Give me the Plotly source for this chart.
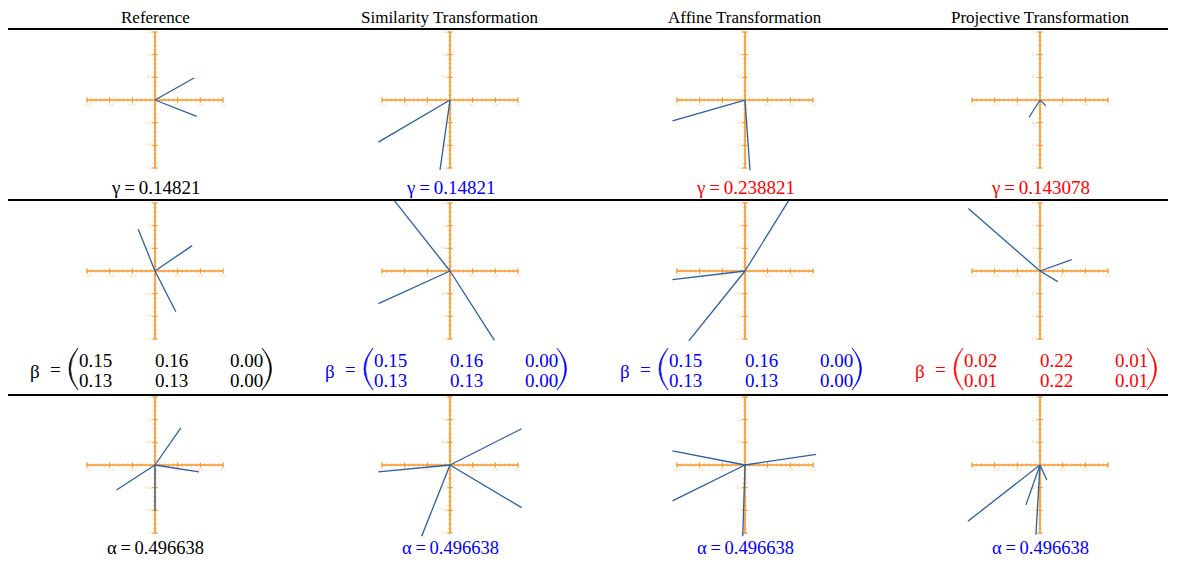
import plotly.graph_objects as go

W, H = 1182, 565
OX, OY = 8, 8            # browser body margin
FW, FH = W - 2 * OX, H - 2 * OY

# ---------------- data ----------------
titles = ["Reference", "Similarity Transformation", "Affine Transformation", "Projective Transformation"]

gamma_values = ["0.14821", "0.14821", "0.238821", "0.143078"]
gamma_colors = ["black", "blue", "red", "red"]

beta_ref_matrix = [["0.15", "0.16", "0.00"], ["0.13", "0.13", "0.00"]]
beta_sim_matrix = [["0.15", "0.16", "0.00"], ["0.13", "0.13", "0.00"]]
beta_aff_matrix = [["0.15", "0.16", "0.00"], ["0.13", "0.13", "0.00"]]
beta_proj_matrix = [["0.02", "0.22", "0.01"], ["0.01", "0.22", "0.01"]]
beta_colors = ["black", "blue", "blue", "red"]

alpha_values = ["0.496638", "0.496638", "0.496638", "0.496638"]
alpha_colors = ["black", "blue", "blue", "blue"]

# vector end points (each drawn from the origin)
gamma_ref = [(0.86, 0.485), (0.92, -0.36)]
gamma_sim = [(-1.58, -0.93), (-0.22, -1.54)]
gamma_aff = [(-1.60, -0.46), (0.11, -1.55)]
gamma_proj = [(-0.24, -0.38), (0.13, -0.13)]

beta_ref = [(-0.37, 0.92), (0.82, 0.56), (0.46, -0.90)]
beta_sim = [(-1.25, 1.58), (-1.58, -0.72), (0.98, -1.53)]
beta_aff = [(0.98, 1.58), (-1.24, -1.54), (-1.60, -0.19)]
beta_proj = [(-1.58, 1.38), (0.70, 0.25), (0.39, -0.235)]

alpha_ref = [(0.57, 0.82), (-0.85, -0.55), (0.97, -0.15), (0.0, -1.01)]
alpha_sim = [(1.58, 0.80), (-1.58, -0.15), (1.58, -0.94), (-0.625, -1.57)]
alpha_aff = [(-1.60, 0.31), (1.57, 0.235), (-1.60, -0.79), (-0.05, -1.57)]
alpha_proj = [(-1.59, -1.24), (-0.31, -0.88), (0.15, -0.33), (-0.09, -1.54)]

major_ticks = [-1.5, -1.0, -0.5, 0.5, 1.0, 1.5]
major_labels = ["\u22121.5", "\u22121.0", "\u22120.5", "0.5", "1.0", "1.5"]
minor_ticks = [round(-1.5 + 0.1 * i, 2) for i in range(31)]

# ---------------- layout helpers ----------------
col_cx = [155, 450, 745, 1040]
row_cy = [100, 271, 465]
R = 1.75
K = 45.33  # px per unit
HALF = R * K

AXIS_COLOR = "#f7931e"
TICK_COLOR = "#f9a54a"
LABEL_COLOR = "#fbc48c"
VEC_COLOR = "#2a5fa3"
FONT = "Liberation Serif"


def px(x):
    return (x - OX) / FW


def py(y):
    return 1 - (y - OY) / FH


panels = [
    [gamma_ref, gamma_sim, gamma_aff, gamma_proj],
    [beta_ref, beta_sim, beta_aff, beta_proj],
    [alpha_ref, alpha_sim, alpha_aff, alpha_proj],
]

fig = go.Figure()
layout_axes = {}
idx = 0
for r, row in enumerate(panels):
    for c, vecs in enumerate(row):
        idx += 1
        xa = "x" if idx == 1 else f"x{idx}"
        ya = "y" if idx == 1 else f"y{idx}"
        xkey = "xaxis" if idx == 1 else f"xaxis{idx}"
        ykey = "yaxis" if idx == 1 else f"yaxis{idx}"
        cx, cy = col_cx[c], row_cy[r]
        layout_axes[xkey] = dict(domain=[px(cx - HALF), px(cx + HALF)], range=[-R, R],
                                 visible=False, fixedrange=True, anchor=ya)
        layout_axes[ykey] = dict(domain=[py(cy + HALF), py(cy - HALF)], range=[-R, R],
                                 visible=False, fixedrange=True, anchor=xa)
        # orange axes
        fig.add_trace(go.Scatter(x=[-1.5, 1.5, None, 0, 0], y=[0, 0, None, -1.5, 1.5],
                                 mode="lines", line=dict(color=AXIS_COLOR, width=1.6),
                                 xaxis=xa, yaxis=ya, hoverinfo="skip", showlegend=False))
        # minor ticks
        fig.add_trace(go.Scatter(x=minor_ticks, y=[0] * len(minor_ticks), mode="markers",
                                 marker=dict(symbol="line-ns", size=2.5,
                                             line=dict(color=TICK_COLOR, width=0.8)),
                                 xaxis=xa, yaxis=ya, hoverinfo="skip", showlegend=False))
        fig.add_trace(go.Scatter(x=[0] * len(minor_ticks), y=minor_ticks, mode="markers",
                                 marker=dict(symbol="line-ew", size=2.5,
                                             line=dict(color=TICK_COLOR, width=0.8)),
                                 xaxis=xa, yaxis=ya, hoverinfo="skip", showlegend=False))
        # major ticks
        fig.add_trace(go.Scatter(x=major_ticks, y=[0] * len(major_ticks), mode="markers",
                                 marker=dict(symbol="line-ns", size=4,
                                             line=dict(color=AXIS_COLOR, width=1)),
                                 xaxis=xa, yaxis=ya, hoverinfo="skip", showlegend=False))
        fig.add_trace(go.Scatter(x=[0] * len(major_ticks), y=major_ticks, mode="markers",
                                 marker=dict(symbol="line-ew", size=4,
                                             line=dict(color=AXIS_COLOR, width=1)),
                                 xaxis=xa, yaxis=ya, hoverinfo="skip", showlegend=False))
        # tick labels
        fig.add_trace(go.Scatter(x=major_ticks, y=[-0.1] * len(major_ticks), mode="text",
                                 text=major_labels, textposition="middle center",
                                 textfont=dict(size=4.5, color=LABEL_COLOR, family=FONT),
                                 xaxis=xa, yaxis=ya, hoverinfo="skip", showlegend=False))
        fig.add_trace(go.Scatter(x=[-0.06] * len(major_ticks), y=major_ticks, mode="text",
                                 text=major_labels, textposition="middle left",
                                 textfont=dict(size=4.5, color=LABEL_COLOR, family=FONT),
                                 xaxis=xa, yaxis=ya, hoverinfo="skip", showlegend=False))
        # vectors
        vx, vy = [], []
        for ex, ey in vecs:
            vx += [0, ex, None]
            vy += [0, ey, None]
        fig.add_trace(go.Scatter(x=vx, y=vy, mode="lines",
                                 line=dict(color=VEC_COLOR, width=1.3),
                                 xaxis=xa, yaxis=ya, hoverinfo="skip", showlegend=False))

annotations = []
shapes = []

# titles
for c, t in enumerate(titles):
    annotations.append(dict(x=px(col_cx[c]), y=py(17), xref="paper", yref="paper", text=t,
                            showarrow=False, xanchor="center", yanchor="middle",
                            font=dict(family=FONT, size=17, color="black")))

# separator rules
for yy in (29, 200, 395):
    shapes.append(dict(type="line", xref="paper", yref="paper", x0=px(8), x1=px(1168),
                       y0=py(yy), y1=py(yy), line=dict(color="black", width=2.2)))

# gamma / alpha labels
for c in range(4):
    annotations.append(dict(x=px(col_cx[c]), y=py(187), xref="paper", yref="paper",
                            text=f"\u03b3\u2009=\u2009{gamma_values[c]}", showarrow=False,
                            xanchor="center", yanchor="middle",
                            font=dict(family=FONT, size=19, color=gamma_colors[c])))
    annotations.append(dict(x=px(col_cx[c]), y=py(548), xref="paper", yref="paper",
                            text=f"\u03b1\u2009=\u2009{alpha_values[c]}", showarrow=False,
                            xanchor="center", yanchor="middle",
                            font=dict(family=FONT, size=18.5, color=alpha_colors[c])))

# beta matrices
beta_mats = [beta_ref_matrix, beta_sim_matrix, beta_aff_matrix, beta_proj_matrix]
col_off = [-60, 16, 91]
row_y = [360, 380]
for c in range(4):
    cx = col_cx[c]
    color = beta_colors[c]
    annotations.append(dict(x=px(cx - 120), y=py(371), xref="paper", yref="paper", text="\u03b2",
                            showarrow=False, xanchor="center", yanchor="middle",
                            font=dict(family=FONT, size=19, color=color)))
    annotations.append(dict(x=px(cx - 100), y=py(369), xref="paper", yref="paper", text="=",
                            showarrow=False, xanchor="center", yanchor="middle",
                            font=dict(family=FONT, size=19, color=color)))
    for ri in range(2):
        for ci in range(3):
            annotations.append(dict(x=px(cx + col_off[ci]), y=py(row_y[ri]), xref="paper",
                                    yref="paper", text=beta_mats[c][ri][ci], showarrow=False,
                                    xanchor="center", yanchor="middle",
                                    font=dict(family=FONT, size=19, color=color)))
    # parentheses as filled crescents
    top, bot = 348, 390
    mid = (top + bot) / 2
    lx_end, lo, li = cx - 77, cx - 95, cx - 92
    path_l = (f"M {px(lx_end)},{py(top)} Q {px(lo)},{py(mid)} {px(lx_end)},{py(bot)} "
              f"Q {px(li)},{py(mid)} {px(lx_end)},{py(top)} Z")
    rx_end, ro, rin = cx + 107, cx + 126, cx + 123
    path_r = (f"M {px(rx_end)},{py(top)} Q {px(ro)},{py(mid)} {px(rx_end)},{py(bot)} "
              f"Q {px(rin)},{py(mid)} {px(rx_end)},{py(top)} Z")
    for p in (path_l, path_r):
        shapes.append(dict(type="path", xref="paper", yref="paper", path=p,
                           fillcolor=color, line=dict(color=color, width=0.6)))

fig.update_layout(width=FW, height=FH, margin=dict(l=0, r=0, t=0, b=0),
                  paper_bgcolor="white", plot_bgcolor="rgba(0,0,0,0)",
                  annotations=annotations, shapes=shapes, showlegend=False,
                  **layout_axes)

fig.write_html("out.html")
